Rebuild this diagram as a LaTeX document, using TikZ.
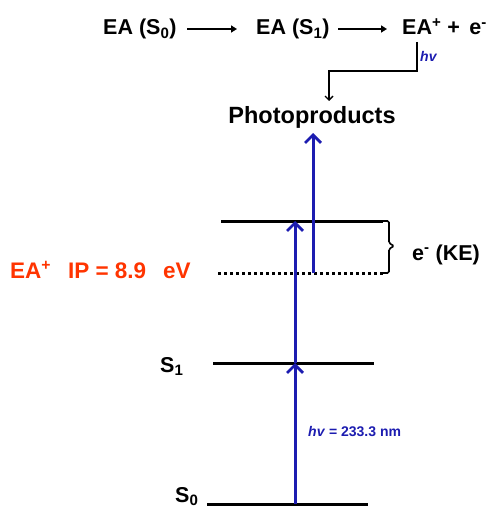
\documentclass[tikz,border=0pt]{standalone}
\usepackage{fontspec}
\setmainfont{Liberation Sans}
\usetikzlibrary{arrows.meta,calc}
\definecolor{arrowblue}{RGB}{28,28,176}
\definecolor{ipred}{RGB}{255,52,0}
\begin{document}
\begin{tikzpicture}[x=1pt,y=-1pt,
  big/.style={font=\fontsize{21.5}{24}\selectfont\bfseries, inner sep=0pt, anchor=base},
  small/.style={font=\fontsize{14}{16}\selectfont\bfseries, inner sep=0pt, anchor=base, text=arrowblue},
  level/.style={line width=3pt, black},
  blueup/.style={line width=3pt, arrowblue, -{Straight Barb[length=8pt,width=16pt,line width=2.8pt]}},
  react/.style={line width=1.8pt, -{Triangle[length=6pt,width=7pt]}}
]
\useasboundingbox (0,0) rectangle (499,508);
% top reaction row
\node[big, anchor=base west] (eas0) at (103,35) {EA (S\textsubscript{0})};
\node[big, anchor=base west] (eas1) at (256,35) {EA (S\textsubscript{1})};
\node[big, anchor=base west] (eap) at (402,35) {EA\textsuperscript{+} +\, e\textsuperscript{-}};
\coordinate (a1s) at (187,29); \coordinate (a1e) at (237,29);
\coordinate (a2s) at (338,29); \coordinate (a2e) at (387,29);
\draw[react] (a1s) -- (a1e);
\draw[react] (a2s) -- (a2e);
% bent connector to photoproducts
\node[big, anchor=base, font=\fontsize{23.5}{26}\selectfont\bfseries] (photo) at (312,123) {Photoproducts};
\coordinate (eabot) at (417,42);
\coordinate (bend) at (329,71);
\coordinate (phtop) at (329,101);
\draw[line width=1.4pt, -{Straight Barb[length=4pt,width=8pt]}] (eabot) |- (bend) -- (phtop);
\node[small, anchor=base west, font=\fontsize{14}{16}\selectfont\bfseries\itshape] (hv1) at (420,62) {hv};
% levels
\coordinate (upL) at (221,221); \coordinate (upR) at (383,221);
\coordinate (ipL) at (218,273); \coordinate (ipR) at (383,273);
\coordinate (s1L) at (213,363); \coordinate (s1R) at (374,363);
\coordinate (s0L) at (207,504); \coordinate (s0R) at (368,504);
\draw[level] (upL) -- (upR);
\draw[level, line cap=butt, dash pattern=on 3pt off 3pt] (ipL) -- (ipR);
\draw[level] (s1L) -- (s1R);
\draw[level] (s0L) -- (s0R);
% brace
\draw[line width=1.6pt, rounded corners=1.5pt] (upR) -- (389,221) -- (389,243) -- (394,246) -- (389,249) -- (389,273) -- (ipR);
\node[big, anchor=base west] (ke) at (412,260) {e\textsuperscript{-} (KE)};
% labels
\node[big, anchor=base west, text=ipred, font=\fontsize{22.5}{24}\selectfont\bfseries] (ip) at (10,278) {EA\textsuperscript{+}\hspace{0.75em}IP = 8.9\hspace{0.75em}eV};
\node[big, anchor=base west] (s1lab) at (160,372) {S\textsubscript{1}};
\node[big, anchor=base west] (s0lab) at (175,502) {S\textsubscript{0}};
% blue arrows
\coordinate (b0) at (295,504);
\coordinate (b1) at (295,363);
\coordinate (b2) at (295,221);
\coordinate (c0) at (313,273);
\coordinate (c1) at (313,133);
\draw[blueup] (b0) -- (b1);
\draw[blueup] (b1) -- (b2);
\draw[blueup] (c0) -- (c1);
\node[small, anchor=base west] (hv2) at (308,436) {\textit{hv} = 233.3 nm};
\end{tikzpicture}
\end{document}
